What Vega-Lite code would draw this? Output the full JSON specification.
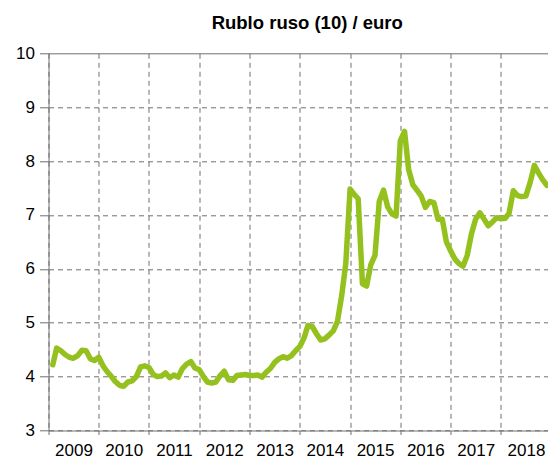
{
  "$schema": "https://vega.github.io/schema/vega-lite/v6.json",
  "autosize": {"type": "none"},
  "width": 499.5,
  "height": 377.2,
  "padding": {"left": 48.5, "top": 53.3, "right": 0, "bottom": 26.5},
  "background": "white",
  "title": {
    "text": "Rublo ruso (10) / euro",
    "font": "Liberation Sans",
    "fontSize": 18.5,
    "fontWeight": "bold",
    "color": "#000000",
    "anchor": "middle",
    "dx": 9,
    "offset": 12
  },
  "data": {
    "values": [
      {"date": "2009-02-01", "value": 4.22},
      {"date": "2009-03-01", "value": 4.53},
      {"date": "2009-04-01", "value": 4.48},
      {"date": "2009-05-01", "value": 4.41},
      {"date": "2009-06-01", "value": 4.36},
      {"date": "2009-07-01", "value": 4.34},
      {"date": "2009-08-01", "value": 4.39},
      {"date": "2009-09-01", "value": 4.49},
      {"date": "2009-10-01", "value": 4.48},
      {"date": "2009-11-01", "value": 4.33},
      {"date": "2009-12-01", "value": 4.30},
      {"date": "2010-01-01", "value": 4.36},
      {"date": "2010-02-01", "value": 4.20},
      {"date": "2010-03-01", "value": 4.10},
      {"date": "2010-04-01", "value": 4.01},
      {"date": "2010-05-01", "value": 3.91},
      {"date": "2010-06-01", "value": 3.84},
      {"date": "2010-07-01", "value": 3.82},
      {"date": "2010-08-01", "value": 3.90},
      {"date": "2010-09-01", "value": 3.92},
      {"date": "2010-10-01", "value": 4.00},
      {"date": "2010-11-01", "value": 4.18},
      {"date": "2010-12-01", "value": 4.20},
      {"date": "2011-01-01", "value": 4.17},
      {"date": "2011-02-01", "value": 4.04},
      {"date": "2011-03-01", "value": 4.00},
      {"date": "2011-04-01", "value": 4.01},
      {"date": "2011-05-01", "value": 4.07},
      {"date": "2011-06-01", "value": 3.98},
      {"date": "2011-07-01", "value": 4.03},
      {"date": "2011-08-01", "value": 3.99},
      {"date": "2011-09-01", "value": 4.15},
      {"date": "2011-10-01", "value": 4.23},
      {"date": "2011-11-01", "value": 4.28},
      {"date": "2011-12-01", "value": 4.16},
      {"date": "2012-01-01", "value": 4.13},
      {"date": "2012-02-01", "value": 4.00},
      {"date": "2012-03-01", "value": 3.90},
      {"date": "2012-04-01", "value": 3.88},
      {"date": "2012-05-01", "value": 3.90},
      {"date": "2012-06-01", "value": 4.02},
      {"date": "2012-07-01", "value": 4.10},
      {"date": "2012-08-01", "value": 3.94},
      {"date": "2012-09-01", "value": 3.93},
      {"date": "2012-10-01", "value": 4.02},
      {"date": "2012-11-01", "value": 4.03},
      {"date": "2012-12-01", "value": 4.04},
      {"date": "2013-01-01", "value": 4.02},
      {"date": "2013-02-01", "value": 4.02},
      {"date": "2013-03-01", "value": 4.03},
      {"date": "2013-04-01", "value": 3.99},
      {"date": "2013-05-01", "value": 4.08},
      {"date": "2013-06-01", "value": 4.15},
      {"date": "2013-07-01", "value": 4.26},
      {"date": "2013-08-01", "value": 4.33},
      {"date": "2013-09-01", "value": 4.37},
      {"date": "2013-10-01", "value": 4.34},
      {"date": "2013-11-01", "value": 4.39},
      {"date": "2013-12-01", "value": 4.48},
      {"date": "2014-01-01", "value": 4.56},
      {"date": "2014-02-01", "value": 4.72},
      {"date": "2014-03-01", "value": 4.95},
      {"date": "2014-04-01", "value": 4.93},
      {"date": "2014-05-01", "value": 4.80},
      {"date": "2014-06-01", "value": 4.68},
      {"date": "2014-07-01", "value": 4.70},
      {"date": "2014-08-01", "value": 4.77},
      {"date": "2014-09-01", "value": 4.85},
      {"date": "2014-10-01", "value": 5.02},
      {"date": "2014-11-01", "value": 5.50},
      {"date": "2014-12-01", "value": 6.10},
      {"date": "2015-01-01", "value": 7.48},
      {"date": "2015-02-01", "value": 7.38},
      {"date": "2015-03-01", "value": 7.30},
      {"date": "2015-04-01", "value": 5.72},
      {"date": "2015-05-01", "value": 5.68},
      {"date": "2015-06-01", "value": 6.08},
      {"date": "2015-07-01", "value": 6.25},
      {"date": "2015-08-01", "value": 7.25},
      {"date": "2015-09-01", "value": 7.46},
      {"date": "2015-10-01", "value": 7.15},
      {"date": "2015-11-01", "value": 7.02},
      {"date": "2015-12-01", "value": 6.98},
      {"date": "2016-01-01", "value": 8.38},
      {"date": "2016-02-01", "value": 8.55},
      {"date": "2016-03-01", "value": 7.85},
      {"date": "2016-04-01", "value": 7.56},
      {"date": "2016-05-01", "value": 7.46},
      {"date": "2016-06-01", "value": 7.35},
      {"date": "2016-07-01", "value": 7.14},
      {"date": "2016-08-01", "value": 7.25},
      {"date": "2016-09-01", "value": 7.23},
      {"date": "2016-10-01", "value": 6.92},
      {"date": "2016-11-01", "value": 6.92},
      {"date": "2016-12-01", "value": 6.50},
      {"date": "2017-01-01", "value": 6.33},
      {"date": "2017-02-01", "value": 6.18},
      {"date": "2017-03-01", "value": 6.10},
      {"date": "2017-04-01", "value": 6.05},
      {"date": "2017-05-01", "value": 6.25},
      {"date": "2017-06-01", "value": 6.65},
      {"date": "2017-07-01", "value": 6.92},
      {"date": "2017-08-01", "value": 7.04},
      {"date": "2017-09-01", "value": 6.92},
      {"date": "2017-10-01", "value": 6.80},
      {"date": "2017-11-01", "value": 6.87},
      {"date": "2017-12-01", "value": 6.95},
      {"date": "2018-01-01", "value": 6.93},
      {"date": "2018-02-01", "value": 6.94},
      {"date": "2018-03-01", "value": 7.03},
      {"date": "2018-04-01", "value": 7.45},
      {"date": "2018-05-01", "value": 7.36},
      {"date": "2018-06-01", "value": 7.34},
      {"date": "2018-07-01", "value": 7.35},
      {"date": "2018-08-01", "value": 7.60},
      {"date": "2018-09-01", "value": 7.92},
      {"date": "2018-10-01", "value": 7.78},
      {"date": "2018-11-01", "value": 7.65},
      {"date": "2018-12-01", "value": 7.55}
    ]
  },
  "mark": {
    "type": "line",
    "color": "#95c11f",
    "strokeWidth": 5.5,
    "strokeJoin": "round",
    "strokeCap": "round",
    "clip": true
  },
  "encoding": {
    "x": {
      "field": "date",
      "type": "temporal",
      "title": null,
      "scale": {
        "type": "utc",
        "domain": [
          {"year": 2009, "month": 1, "date": 1, "utc": true},
          {"year": 2018, "month": 12, "date": 9, "utc": true}
        ],
        "nice": false
      },
      "axis": {
        "tickCount": {"interval": "year", "step": 1},
        "format": "%Y",
        "labelOffset": 25,
        "labelFlush": false,
        "labelOverlap": false,
        "labelBound": false,
        "labelBaseline": "top",
        "tickSize": 4,
        "labelPadding": 8,
        "grid": true,
        "gridDash": [5, 4],
        "gridColor": "#707070",
        "gridWidth": 1,
        "gridOpacity": 1
      }
    },
    "y": {
      "field": "value",
      "type": "quantitative",
      "title": null,
      "scale": {"domain": [3, 10], "nice": false, "zero": false},
      "axis": {
        "values": [3, 4, 5, 6, 7, 8, 9, 10],
        "tickSize": 9,
        "labelPadding": 5,
        "grid": true,
        "gridDash": {"condition": {"test": "datum.value === 10", "value": []}, "value": [5, 4]},
        "gridColor": "#707070",
        "gridWidth": 1,
        "gridOpacity": 1
      }
    }
  },
  "config": {
    "view": {"stroke": null},
    "axis": {
      "labelFont": "Liberation Sans",
      "labelFontSize": 17,
      "labelColor": "#000000",
      "domainColor": "#707070",
      "domainWidth": 1,
      "tickColor": "#707070",
      "tickWidth": 1
    }
  }
}
